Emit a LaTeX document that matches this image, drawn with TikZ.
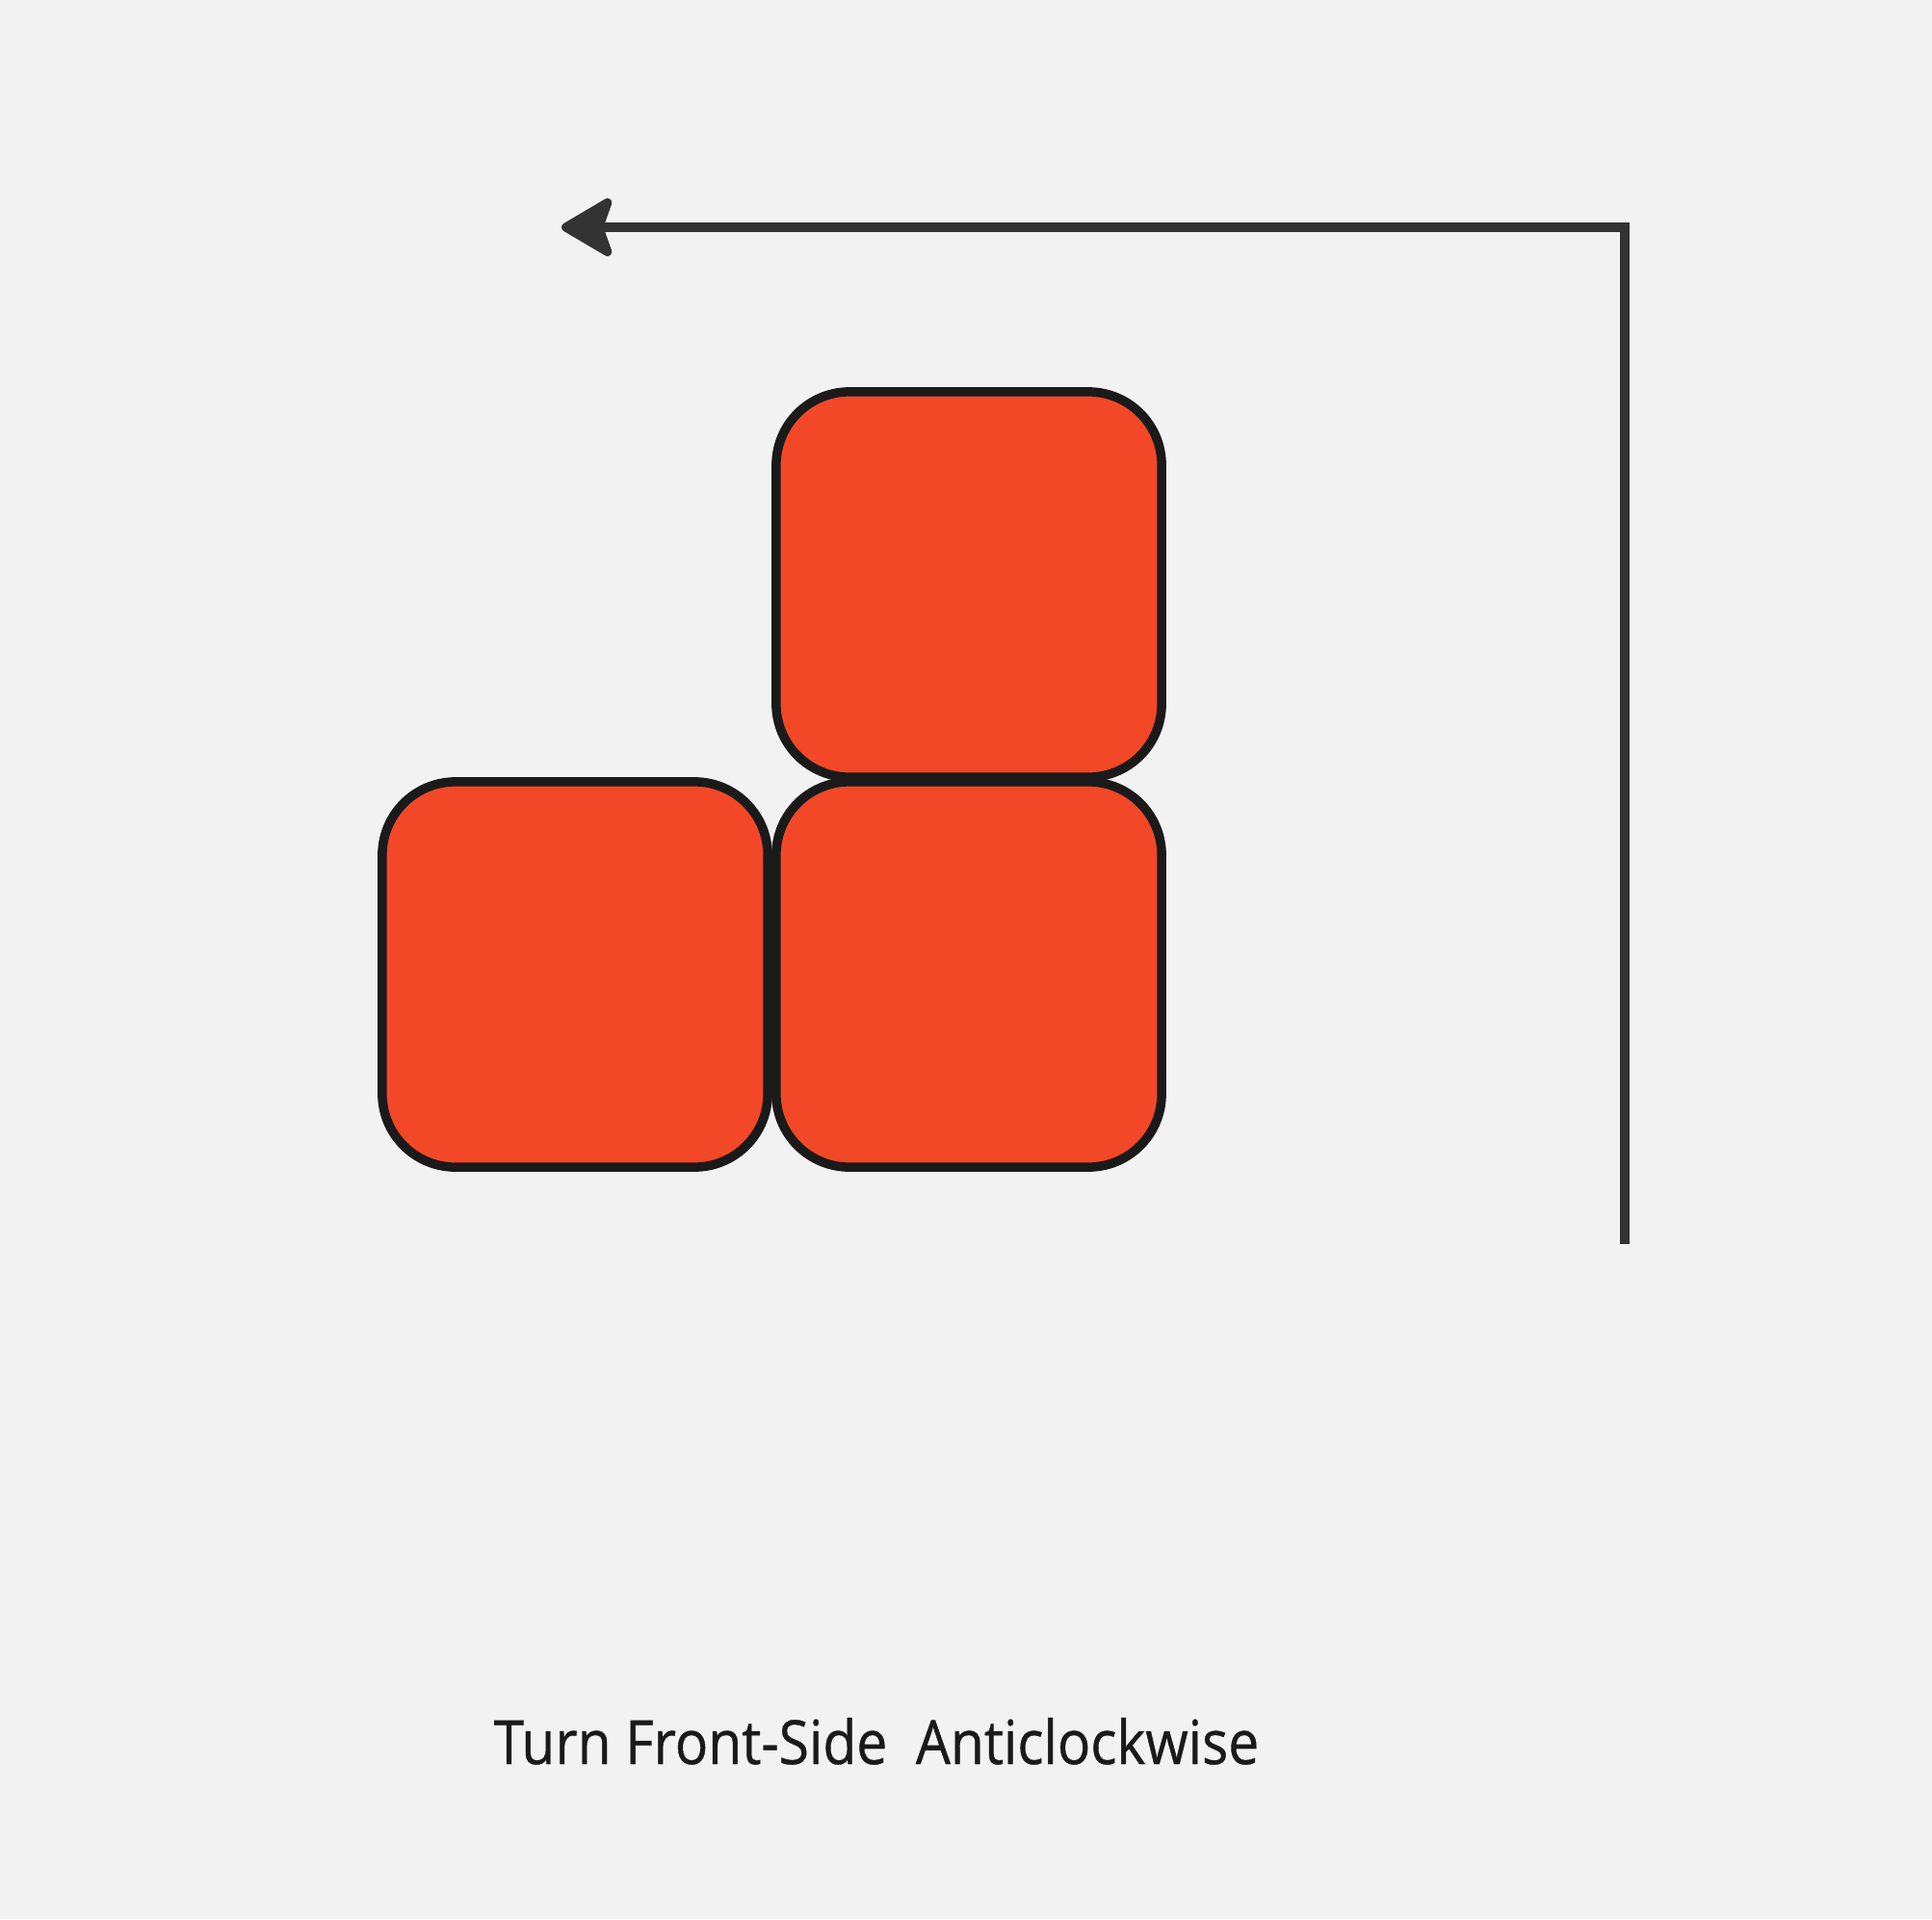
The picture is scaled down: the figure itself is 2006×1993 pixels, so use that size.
\documentclass[tikz,border=0pt]{standalone}
\usepackage{fontspec}
\setmainfont{Open Sans}
\newfontfamily\captionfont[FakeStretch=0.9,FakeBold=0.6]{Open Sans}
\usetikzlibrary{arrows.meta}
\definecolor{bgcol}{HTML}{F2F2F2}
\definecolor{cubecol}{HTML}{F24827}
\definecolor{edgecol}{HTML}{1A1A1A}
\definecolor{turncol}{HTML}{333333}
\tikzset{
  cube/.style={draw=edgecol,fill=cubecol,line width=2.7pt,rounded corners=0.76cm,
    minimum width=4cm,minimum height=4cm,inner sep=0pt},
  turn/.style={draw=turncol,line width=2.6pt,-{Stealth[length=6mm,width=7mm,inset=1.2mm,round]}},
  caption/.style={text=edgecol,font=\captionfont\fontsize{18}{22}\selectfont,inner sep=0pt}
}
\begin{document}
\begin{tikzpicture}[x=0.01cm,y=-0.01cm]
  \fill[bgcol] (0,0) rectangle (2006,1993);
  \useasboundingbox (0,0) rectangle (2006,1993);
  \node[cube] (top) at (1006,607) {};
  \node[cube] (right) at (1006,1012) {};
  \node[cube] (left) at (597,1012) {};
  \coordinate (start) at (1687,1292);
  \coordinate (bend) at (1687,236);
  \coordinate (tip) at (583,236);
  \draw[turn] (start) -- (bend) -- (tip);
  \node[caption,anchor=base west] (label) at (512,1832) {Turn Front-Side\ \ Anticlockwise};
\end{tikzpicture}
\end{document}
